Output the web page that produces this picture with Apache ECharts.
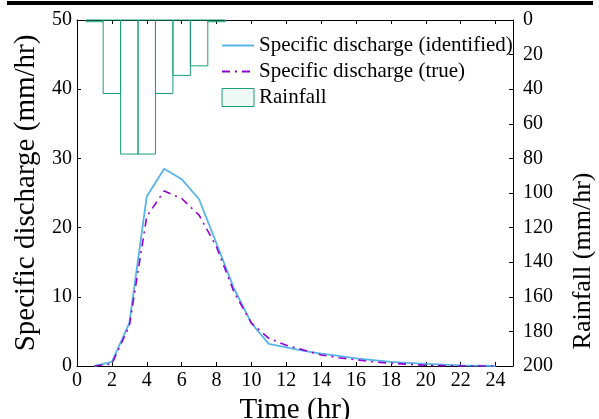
<!DOCTYPE html>
<html>
<head>
<meta charset="utf-8">
<script src="https://cdn.jsdelivr.net/npm/echarts@6/dist/echarts.min.js"></script>
<style>html,body{margin:0;padding:0;background:#fff;}#c{width:599px;height:419px;}</style>
</head>
<body>
<div id="c"></div>
<script>
// Data
const hours = [1,2,3,4,5,6,7,8,9,10,11,12,13,14,15,16,17,18,19,20,21,22,23,24];
const qIdentified = [0,0.6,6.2,24.5,28.5,27.0,24.1,17.7,11.2,6.2,3.2,2.7,2.2,1.8,1.45,1.1,0.85,0.6,0.45,0.3,0.2,0.1,0.05,0];
const qTrue = [0,0.3,5.8,21.6,25.3,24.2,21.8,17.2,10.7,6.2,4.0,3.0,2.3,1.6,1.2,0.9,0.6,0.4,0.25,0.1,0.05,0,0,0];
const rainHours = [1,2,3,4,5,6,7,8];
const rainfall = [1,42.5,77.5,77.5,42.5,32,26.5,1];

const FONT = 'Liberation Serif';
const chart = echarts.init(document.getElementById('c'), null, {renderer:'canvas'});

const rainData = rainHours.map((h,i)=>[h, rainfall[i]]);

chart.setOption({
  animation:false,
  backgroundColor:'#fff',
  textStyle:{fontFamily:FONT},
  grid:{left:77, top:20, right:86, bottom:53, containLabel:false, outerBoundsMode:'none'},
  legend:{
    orient:'vertical', left:216, top:30, itemWidth:32, itemHeight:18, itemGap:5,
    textStyle:{fontFamily:FONT, fontSize:21, color:'#000'},
    data:[
      {name:'Specific discharge (identified)', itemStyle:{color:'rgba(0,0,0,0)', borderWidth:0, opacity:0}},
      {name:'Specific discharge (true)', itemStyle:{color:'rgba(0,0,0,0)', borderWidth:0, opacity:0}},
      {name:'Rainfall', icon:'rect', itemStyle:{color:'#eef8f4', borderColor:'#1a9f78', borderWidth:1}}
    ]
  },
  xAxis:[
    {type:'value', min:0, max:25, interval:2, position:'bottom',
     name:'Time (hr)', nameLocation:'middle', nameGap:23,
     nameTextStyle:{fontFamily:FONT, fontSize:29, color:'#000'},
     axisLine:{show:true, onZero:false, lineStyle:{color:'#000', width:1}},
     axisTick:{show:true, inside:true, length:4, lineStyle:{color:'#000'}},
     axisLabel:{fontFamily:FONT, fontSize:20, color:'#000', margin:5, showMaxLabel:false},
     splitLine:{show:false}},
    {type:'value', min:0, max:25, interval:2, position:'top',
     axisLine:{show:true, onZero:false, lineStyle:{color:'#000', width:1}},
     axisTick:{show:true, inside:true, length:4, lineStyle:{color:'#000'}},
     axisLabel:{show:false}, splitLine:{show:false}}
  ],
  yAxis:[
    {type:'value', min:0, max:50, interval:10, position:'left',
     name:'Specific discharge (mm/hr)', nameLocation:'middle', nameGap:36, nameRotate:90,
     nameTextStyle:{fontFamily:FONT, fontSize:29, color:'#000'},
     axisLine:{show:true, onZero:false, lineStyle:{color:'#000', width:1}},
     axisTick:{show:true, inside:true, length:4, lineStyle:{color:'#000'}},
     axisLabel:{fontFamily:FONT, fontSize:20, color:'#000', margin:5},
     splitLine:{show:false}},
    {type:'value', min:0, max:200, interval:20, position:'right', inverse:true,
     axisLine:{show:true, onZero:false, lineStyle:{color:'#000', width:1}},
     axisTick:{show:true, inside:true, length:4, lineStyle:{color:'#000'}},
     axisLabel:{fontFamily:FONT, fontSize:20, color:'#000', margin:10},
     splitLine:{show:false}}
  ],
  series:[
    {name:'Rainfall', type:'custom', xAxisIndex:0, yAxisIndex:1, z:1,
     itemStyle:{color:'#eef8f4', borderColor:'#1a9f78', borderWidth:1},
     renderItem:function(params, api){
       const x = api.value(0), v = api.value(1);
       const p0 = api.coord([x-0.5, 0]);
       const p1 = api.coord([x+0.5, v]);
       return {type:'rect', shape:{x:p0[0], y:p0[1], width:p1[0]-p0[0], height:p1[1]-p0[1]},
         style:{fill:'rgba(255,255,255,0)', stroke:'#1a9f78', lineWidth:1}};
     },
     data:rainData},
    {name:'Specific discharge (identified)', type:'line', xAxisIndex:0, yAxisIndex:0, z:3,
     data:hours.map((h,i)=>[h,qIdentified[i]]), showSymbol:false, symbol:'none',
     lineStyle:{color:'#56b4e9', width:1.8}, itemStyle:{color:'#56b4e9'}},
    {name:'Specific discharge (true)', type:'line', xAxisIndex:0, yAxisIndex:0, z:4,
     data:hours.map((h,i)=>[h,qTrue[i]]), showSymbol:false, symbol:'none',
     lineStyle:{color:'#9400d3', width:1.6, type:[8,5,2,5]}, itemStyle:{color:'#9400d3'}}
  ],
  graphic:[
    {type:'rect', left:7, top:1, shape:{width:586, height:4}, style:{fill:'#000'}},
    {type:'text', x:583, y:261, rotation:Math.PI/2,
     style:{text:'Rainfall (mm/hr)', fontFamily:FONT, fontSize:26, fill:'#000', align:'center', verticalAlign:'middle'}}
  ]
});
</script>
</body>
</html>
